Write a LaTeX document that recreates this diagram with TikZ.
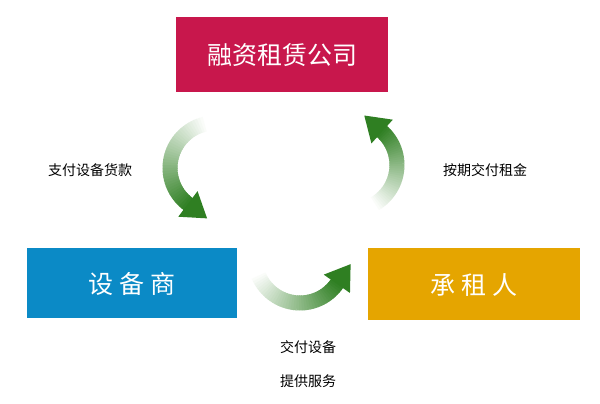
\documentclass[tikz,border=0pt]{standalone}
\usepackage{fontspec}
\setmainfont{Noto Sans CJK SC}
\definecolor{cred}{HTML}{C8174C}
\definecolor{cblue}{HTML}{0B8AC6}
\definecolor{cyel}{HTML}{E5A500}
\definecolor{cgreen}{HTML}{2F7F22}
\newcommand\myarc[5]{% cx cy r a0 a1
  \pgfmathsetmacro\myn{40}
  \foreach \i in {0,...,39}{
    \pgfmathsetmacro\ta{#4+(#5-#4)*\i/40}
    \pgfmathsetmacro\tb{#4+(#5-#4)*(\i+1.3)/40}
    \pgfmathsetmacro\pc{\i*2.5}
    \draw[line width=15, color=cgreen!\pc!white]
      ({#1+#3*cos(\ta)},{#2-#3*sin(\ta)}) -- ({#1+#3*cos(\tb)},{#2-#3*sin(\tb)});
  }
  \pgfmathsetmacro\px{#1+#3*cos(#5)}
  \pgfmathsetmacro\py{#2-#3*sin(#5)}
  \pgfmathsetmacro\sg{(#5>#4)?1:-1}
  \fill[cgreen] ({\px+16*cos(#5)},{\py-16*sin(#5)}) -- ({\px-16*cos(#5)},{\py+16*sin(#5)})
    -- ({\px-24*\sg*sin(#5)},{\py-24*\sg*cos(#5)}) -- cycle;
}
\begin{document}
\begin{tikzpicture}[x=1pt,y=-1pt,
  box/.style={inner sep=0,text=white,font=\fontsize{25}{28}\selectfont},
  lab/.style={font=\fontsize{14}{16}\selectfont}]
\useasboundingbox (0,0) rectangle (600,404);
\fill[white] (0,0) rectangle (600,404);
\fill[cred] (176,17) rectangle (388,92);
\fill[cblue] (27,248) rectangle (237,318);
\fill[cyel] (368,248) rectangle (580,320);
\node[box] (top) at (282,55) {融资租赁公司};
\node[box] (left) at (132,284) {设\ 备\ 商};
\node[box] (right) at (474,285) {承\ 租\ 人};
\myarc{215}{168}{45}{100}{233}
\myarc{352}{165}{45}{-62}{48}
\myarc{300}{258}{45}{200}{325}
\node[lab] (l1) at (90,170) {支付设备货款};
\node[lab] (l2) at (485,170) {按期交付租金};
\node[lab] (l3) at (308,347) {交付设备};
\node[lab] (l4) at (308,381) {提供服务};
\end{tikzpicture}
\end{document}
